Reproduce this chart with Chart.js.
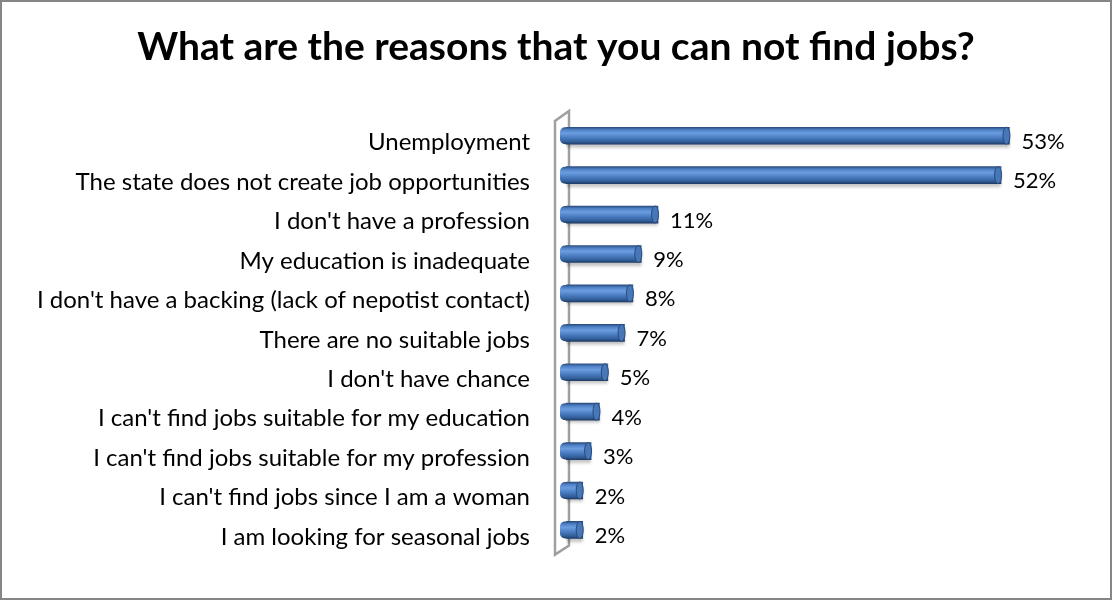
<!DOCTYPE html>
<html>
<head>
<meta charset="utf-8">
<script src="https://cdn.jsdelivr.net/npm/chart.js@4/dist/chart.umd.min.js"></script>
<style>
  html, body { margin: 0; padding: 0; background: #fff; }
  #wrap { width: 1112px; height: 600px; position: relative; }
</style>
</head>
<body>
<div id="wrap"><canvas id="myChart" width="1112" height="600"></canvas></div>
<script>
// datos de la encuesta
const chartTitle = 'What are the reasons that you can not find jobs?';
const reasons = [
    'Unemployment',
    'The state does not create job opportunities',
    "I don't have a profession",
    'My education is inadequate',
    "I don't have a backing (lack of nepotist contact)",
    'There are no suitable jobs',
    "I don't have chance",
    "I can't find jobs suitable for my education",
    "I can't find jobs suitable for my profession",
    "I can't find jobs since I am a woman",
    'I am looking for seasonal jobs'
];
const percents = [53, 52, 11, 9, 8, 7, 5, 4, 3, 2, 2];

const fontFam = 'Lato, "Open Sans", sans-serif';
const halfBar = 8.5;

// degradado tipo cilindro para cada barra
let cylGrad = (c, yc) => {
    const g = c.createLinearGradient(0, yc - halfBar, 0, yc + halfBar);
    g.addColorStop(0, '#2b4c7d');
    g.addColorStop(0.15, '#4d80c6');
    g.addColorStop(0.35, '#6c9ddf');
    g.addColorStop(0.6, '#4b7ec3');
    g.addColorStop(0.85, '#33609b');
    g.addColorStop(1, '#1f3d69');
    return g;
};

// marco, pared 3D y titulo
const decoPlugin = {
    id: 'deco',
    beforeDraw(chart) {
        const c = chart.ctx;
        const a = chart.chartArea;
        c.save();
        c.fillStyle = '#fff';
        c.fillRect(0, 0, chart.width, chart.height);
        c.strokeStyle = '#868686';
        c.lineWidth = 2;
        c.strokeRect(1, 1, chart.width - 2, chart.height - 2);

        c.fillStyle = '#000';
        c.font = 'bold 39px ' + fontFam;
        c.textAlign = 'center';
        c.textBaseline = 'alphabetic';
        c.fillText(chartTitle, 556, 60);

        // pared del eje
        c.strokeStyle = '#a0a0a0';
        c.lineWidth = 2.5;
        c.beginPath();
        c.moveTo(a.left - 11, a.top + 5);
        c.lineTo(a.left - 11, a.bottom + 5);
        c.lineTo(a.left + 3, a.bottom - 4);
        c.lineTo(a.left + 3, a.top - 5);
        c.closePath();
        c.stroke();
        c.restore();
    },
    beforeDatasetDraw(chart) {
        const c = chart.ctx;
        c.save();
        c.shadowColor = 'rgba(0,0,0,0.25)';
        c.shadowBlur = 3;
        c.shadowOffsetY = 3;
    },
    afterDatasetDraw(chart) {
        chart.ctx.restore();
    },
    afterDatasetsDraw(chart) {
        const c = chart.ctx;
        const meta = chart.getDatasetMeta(0);
        c.save();
        meta.data.forEach((bar, i) => {
            const y = bar.y;
            // extremo izquierdo redondeado
            c.fillStyle = cylGrad(c, y);
            c.beginPath();
            c.roundRect(bar.base - 6, y - halfBar, 7, halfBar * 2, [5, 0, 0, 5]);
            c.fill();
            // tapa derecha
            c.beginPath();
            c.ellipse(bar.x - 3, y, 3.5, halfBar, 0, 0, Math.PI * 2);
            c.fillStyle = '#4677b9';
            c.fill();
            c.strokeStyle = '#2a4a79';
            c.lineWidth = 1;
            c.stroke();
            // etiqueta de valor
            c.fillStyle = '#000';
            c.font = '22px ' + fontFam;
            c.textAlign = 'left';
            c.textBaseline = 'middle';
            c.fillText(percents[i] + '%', bar.x + 12, y + 6);
        });
        c.restore();
    }
};

var ctx = document.getElementById('myChart').getContext('2d');
var myChart = new Chart(ctx, {
    type: 'bar',
    data: {
        labels: reasons,
        datasets: [{
            data: percents,
            backgroundColor: (context) => {
                const chart = context.chart;
                if (!chart.chartArea) return '#4f81bd';
                const yc = chart.scales.y.getPixelForValue(context.dataIndex);
                return cylGrad(chart.ctx, yc);
            },
            borderWidth: 0,
            barThickness: 17
        }]
    },
    options: {
        indexAxis: 'y',
        responsive: false,
        animation: false,
        layout: {
            padding: { left: 10, right: 44, top: 116, bottom: 40 }
        },
        scales: {
            x: {
                display: false,
                min: 0,
                max: 60
            },
            y: {
                grid: { display: false, drawTicks: false },
                border: { display: false },
                afterFit: (scale) => { scale.width = 556; },
                ticks: {
                    color: '#000',
                    padding: 36,
                    labelOffset: 7,
                    autoSkip: false,
                    font: { family: fontFam, size: 24 }
                }
            }
        },
        plugins: {
            legend: { display: false },
            title: { display: false },
            tooltip: { enabled: false }
        }
    },
    plugins: [decoPlugin]
});
</script>
</body>
</html>
